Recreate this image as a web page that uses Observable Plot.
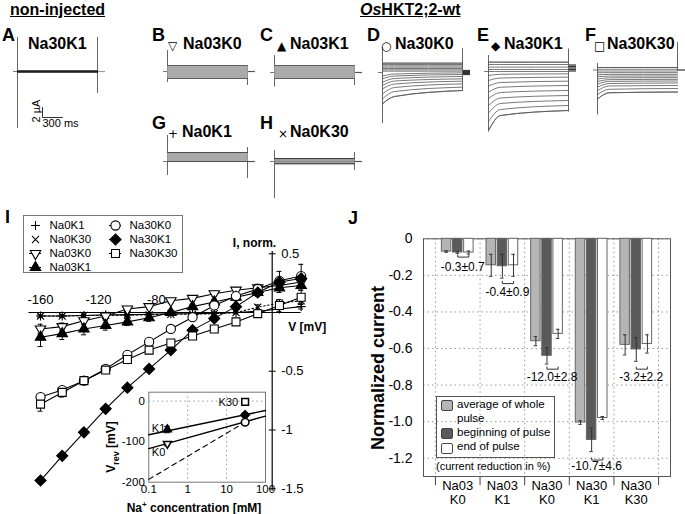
<!DOCTYPE html>
<html><head><meta charset="utf-8">
<script src="https://cdn.jsdelivr.net/npm/d3@7"></script>
<script src="https://cdn.jsdelivr.net/npm/@observablehq/plot@0.6"></script>
<style>
body{margin:0;background:#fff;}
#fig{position:relative;width:685px;height:514px;overflow:hidden;font-family:"Liberation Sans",Arial,sans-serif;color:#000;background:#fff;}
.abs{position:absolute;white-space:nowrap;line-height:1;}
</style></head><body><div id="fig"></div>
<script>
// ================= DATA =================
// Current traces (µA); pulse length
const pulseMs = 1200;
const kneeMs = 180;
const traceA_levels = [0.1, 0.05, 0, -0.05, -0.1];
const traceB_levels = [1.2, 1.0, 0.8, 0.6, 0.4, 0.2, 0.0, -0.2, -0.4, -0.6, -0.8, -1.0, -1.2, -1.4];
const traceC_levels = [1.4, 1.2, 1.0, 0.8, 0.6, 0.4, 0.2, 0.0, -0.2, -0.4, -0.6, -0.8, -1.0, -1.2];
const traceG_levels = [1.8, 1.6, 1.4, 1.2, 1.0, 0.8, 0.6, 0.4, 0.2, 0.0];
const traceH_levels = [0.6, 0.45, 0.3, 0.15, 0.0, -0.15, -0.3, -0.45];
const traceD_start = [1.87, 1.6, 1.33, 1.07, 0.8, 0.53, 0.27, -0.73, -1.27, -1.93, -2.6, -3.27, -4.27, -5.27, -6.27];
const traceD_knee  = [1.87, 1.6, 1.33, 1.07, 0.8, 0.53, 0.27, -0.3, -0.7, -1.2, -1.7, -2.3, -3.0, -3.8, -4.8];
const traceD_end   = [1.87, 1.6, 1.33, 1.07, 0.8, 0.53, 0.27, -0.07, -0.4, -0.8, -1.27, -1.73, -2.27, -2.93, -3.6];
const traceE_start = [1.87, 1.4, 0.87, 0.4, 0, -0.8, -1.8, -2.9, -4.1, -5.4, -6.8, -8.3, -10.0, -11.8];
const traceE_knee  = [1.87, 1.4, 0.87, 0.4, 0, -0.55, -1.3, -2.2, -3.15, -4.2, -5.3, -6.4, -7.6, -8.8];
const traceE_end   = [1.87, 1.4, 0.87, 0.4, 0, -0.47, -1.13, -1.93, -2.8, -3.8, -4.8, -5.8, -6.8, -7.8];
const traceF_start = [0.5, 0.15, -0.2, -0.55, -0.95, -1.35, -1.8, -2.3, -2.8, -3.4, -4.1, -4.9, -5.8];
const traceF_knee  = [0.5, 0.15, -0.2, -0.53, -0.88, -1.22, -1.57, -1.93, -2.28, -2.7, -3.2, -3.85, -4.55];
const traceF_end   = [0.5, 0.15, -0.2, -0.53, -0.87, -1.2, -1.53, -1.87, -2.2, -2.6, -3.1, -3.7, -4.4];
// capacitive spikes [onset hi, onset lo], [offset hi, offset lo]
const spikesA = [[6.8, -11.4], [6.8, -4.4]];
const spikesB = [[4.2, -2.2], [1.2, -2.8]];
const spikesC = [[3.4, -2.9], [1.4, -2.6]];
const spikesD = [[5.0, -10.2], [4.8, -3.6]];
const spikesE = [[3.2, -12.1], [4.5, -8.1]];
const spikesF = [[1.3, -9.0], [5.5, -0.3]];
const spikesG = [[5.2, -2.8], [2.8, -3.4]];
const spikesH = [[2.2, -7.4], [1.8, -1.8]];
const tailsD = [0.4, 0.2, 0, -0.2, -0.4];
const tailsE = [1.3, 1.0, 0.7, 0.4, 0.1];
const tailsFlat = [0];
const scaleBarUA = 2, scaleBarMs = 300;

// Panel I: I–V curves
const ivVoltages = [-160, -145, -130, -115, -100, -85, -70, -55, -40, -25, -10, 5, 20];
const iv_Na0K1   = [-0.03, -0.03, -0.025, -0.02, -0.02, -0.015, -0.01, -0.01, -0.005, 0.0, 0.01, 0.03, 0.05];
const iv_Na0K30  = [-0.03, -0.03, -0.025, -0.025, -0.02, -0.02, -0.015, -0.015, -0.01, 0.0, 0.045, 0.08, 0.1];
const iv_Na03K0  = [-0.14, -0.12, -0.07, -0.03, 0.03, 0.05, 0.10, 0.12, 0.16, 0.19, 0.21, 0.23, 0.26];
const iv_Na03K1  = [-0.21, -0.18, -0.14, -0.11, -0.08, -0.045, 0.0, 0.05, 0.09, 0.13, 0.17, 0.21, 0.23];
const iv_Na30K0  = [-0.72, -0.66, -0.58, -0.48, -0.36, -0.25, -0.14, -0.04, 0.06, 0.14, 0.20, 0.27, 0.31];
const iv_Na30K1  = [-1.43, -1.22, -1.02, -0.82, -0.64, -0.48, -0.32, -0.15, -0.05, 0.05, 0.17, 0.26, 0.29];
const iv_Na30K30 = [-0.78, -0.68, -0.58, -0.49, -0.40, -0.32, -0.26, -0.20, -0.14, -0.08, -0.01, 0.06, 0.13];
const ivErr_Na0K1   = [0.01, 0.01, 0.01, 0.01, 0.01, 0.01, 0.01, 0.01, 0.01, 0.01, 0.01, 0.02, 0.02];
const ivErr_Na0K30  = [0.01, 0.01, 0.01, 0.01, 0.01, 0.01, 0.01, 0.01, 0.01, 0.01, 0.02, 0.03, 0.03];
const ivErr_Na03K0  = [0.04, 0.03, 0.03, 0.03, 0.02, 0.02, 0.02, 0.02, 0.02, 0.02, 0.03, 0.04, 0.05];
const ivErr_Na03K1  = [0.08, 0.05, 0.05, 0.04, 0.03, 0.03, 0.02, 0.02, 0.02, 0.03, 0.03, 0.04, 0.04];
const ivErr_Na30K0  = [0.03, 0.03, 0.02, 0.02, 0.02, 0.02, 0.02, 0.02, 0.02, 0.02, 0.03, 0.08, 0.10];
const ivErr_Na30K1  = [0.02, 0.02, 0.02, 0.02, 0.02, 0.02, 0.02, 0.02, 0.02, 0.02, 0.02, 0.03, 0.03];
const ivErr_Na30K30 = [0.06, 0.04, 0.03, 0.03, 0.03, 0.02, 0.02, 0.02, 0.02, 0.02, 0.02, 0.03, 0.06];
const ivXTicks = [-160, -120, -80];
const ivYTicks = [0.5, -0.5, -1, -1.5];

// Inset: reversal potential vs Na+
const insetConc  = [0.3, 0.3, 30, 30, 30];
const insetVrev  = [-70, -105, -2, -34, -52];
const insetErr   = [8, 5, 8, 5, 3];
const fitK1 = [[0.1, -83], [100, -23]];
const fitK0 = [[0.1, -117], [100, -37]];
const nernstLine = [[0.1, -193], [30, -52]];
const insetXTicks = [0.1, 1, 10, 100];
const insetYTicks = [0, -100, -200];

// Panel J: bars
const jGroups = ["Na03K0", "Na03K1", "Na30K0", "Na30K1", "Na30K30"];
const jLabelTop = ["Na03", "Na03", "Na30", "Na30", "Na30"];
const jLabelBottom = ["K0", "K1", "K0", "K1", "K30"];
const jSeries = ["average", "beginning", "end"];
const jAverage   = [-0.07, -0.145, -0.56, -1.005, -0.58];
const jAverageErr = [0.004, 0.06, 0.025, 0.01, 0.055];
const jBeginning = [-0.075, -0.15, -0.64, -1.10, -0.605];
const jBeginningErr = [0.005, 0.065, 0.045, 0.064, 0.065];
const jEnd       = [-0.075, -0.145, -0.52, -0.98, -0.575];
const jEndErr    = [0.008, 0.06, 0.025, 0.008, 0.05];
const jReduction = ["-0.3±0.7", "-0.4±0.9", "-12.0±2.8", "-10.7±4.6", "-3.2±2.2"];
const jBracketY  = [-0.10, -0.245, -0.713, -1.21, -0.713];
const jReductionY = [-0.155, -0.29, -0.755, -1.245, -0.755];
const jTicks = [0, -0.2, -0.4, -0.6, -0.8, -1.0, -1.2];

// ================= HELPERS =================
const fig = document.getElementById("fig");
const FONT = '"Liberation Sans", Arial, sans-serif';
const baseStyle = {background: "transparent", overflow: "visible", fontFamily: FONT, color: "black"};
function addEl(html, css) {
  const d = document.createElement("div");
  d.className = "abs"; d.style.cssText += css; d.innerHTML = html; fig.appendChild(d); return d;
}
function addText(html, left, cy, size, weight = "normal", extra = "") {
  return addEl(html, `left:${left}px;top:${(cy - 0.5 * size).toFixed(1)}px;font-size:${size}px;font-weight:${weight};${extra}`);
}
function addCentered(html, cx, cy, size, weight = "normal", rot = 0) {
  return addEl(html, `left:${cx}px;top:${cy}px;font-size:${size}px;font-weight:${weight};transform:translate(-50%,-50%) rotate(${rot}deg);`);
}
function addPlot(svg, left, top, w, h) {
  const d = document.createElement("div");
  d.style.cssText = `position:absolute;left:${left}px;top:${top}px;width:${w}px;height:${h}px;`;
  svg.style.maxWidth = "none";
  d.appendChild(svg); fig.appendChild(d);
}
const triDown = {draw(ctx, size) {
  const s = Math.sqrt(size) * 0.6824, t = s / 2, u = s * Math.sqrt(3) / 2;
  ctx.moveTo(0, s); ctx.lineTo(u, -t); ctx.lineTo(-u, -t); ctx.closePath();
}};

// ================= TRACE PANELS =================
const UA_PX = 10 / scaleBarUA;     // 2 µA bar = 10 px
const MS_PX = 20 / scaleBarMs;     // 300 ms bar = 20 px
function flat(levels) { return levels.map(l => ({start: l, end: l})); }
function curved(st, kn, en) { return st.map((s, k) => ({start: s, knee: kn[k], end: en[k]})); }
function tracePanel({left, top, height, zeroY, sweeps, spikes, tails, color, edge, width = 0.9, tailColor = "#555", extra = []}) {
  const W = 100, lead = 8;
  const rows = [];
  sweeps.forEach((s, k) => {
    const isEdge = k === 0 || k === sweeps.length - 1;
    rows.push({k, t: 0, i: s.start, isEdge});
    if (s.knee !== undefined) rows.push({k, t: kneeMs, i: s.knee, isEdge});
    rows.push({k, t: pulseMs, i: s.end, isEdge});
  });
  const spikeRows = [{t: 0, hi: spikes[0][0], lo: spikes[0][1]}, {t: pulseMs, hi: spikes[1][0], lo: spikes[1][1]}];
  const svg = Plot.plot({
    width: W, height, margin: 0, style: baseStyle,
    x: {domain: [-lead / MS_PX, (W - lead) / MS_PX], axis: null},
    y: {domain: [(zeroY - top - height) / UA_PX, (zeroY - top) / UA_PX], axis: null},
    marks: [
      Plot.ruleY([0], {x1: -60, x2: 0, stroke: "#777"}),
      Plot.ruleY(tails, {x1: pulseMs, x2: pulseMs + 120, stroke: tailColor, strokeWidth: 1.2}),
      Plot.ruleX(spikeRows, {x: "t", y1: "lo", y2: "hi", stroke: "#666", strokeWidth: 1}),
      Plot.line(rows, {x: "t", y: "i", z: "k", curve: "monotone-x", stroke: color, strokeWidth: width}),
      Plot.line(rows, {filter: d => d.isEdge, x: "t", y: "i", z: "k", curve: "monotone-x", stroke: edge, strokeWidth: width}),
      ...extra
    ]
  });
  addPlot(svg, left, top, W, height);
}
const scaleBar = [{t: 375, i: -7.2}, {t: 375, i: -7.2 - scaleBarUA}, {t: 375 + scaleBarMs, i: -7.2 - scaleBarUA}];
tracePanel({left: 9, top: 30, height: 105, zeroY: 71, sweeps: flat(traceA_levels), spikes: spikesA, tails: tailsFlat, color: "#222", edge: "#222", width: 1.2, tailColor: "#999",
  extra: [
    Plot.line(scaleBar, {x: "t", y: "i", stroke: "#333", strokeWidth: 1}),
    Plot.text(["2 µA"], {x: 290, y: -7.9, rotate: -90, text: d => d, fontSize: 11}),
    Plot.text(["300 ms"], {x: 375, y: -10.4, textAnchor: "start", text: d => d, fontSize: 11})
  ]});
tracePanel({left: 159, top: 30, height: 105, zeroY: 71, sweeps: flat(traceB_levels), spikes: spikesB, tails: tailsFlat, color: "#a0a0a0", edge: "#555"});
tracePanel({left: 266, top: 30, height: 105, zeroY: 72, sweeps: flat(traceC_levels), spikes: spikesC, tails: tailsFlat, color: "#a0a0a0", edge: "#555"});
tracePanel({left: 374, top: 30, height: 105, zeroY: 72, sweeps: curved(traceD_start, traceD_knee, traceD_end), spikes: spikesD, tails: tailsD, color: "#555", edge: "#555", width: 0.8, tailColor: "#333"});
tracePanel({left: 480, top: 30, height: 105, zeroY: 71, sweeps: curved(traceE_start, traceE_knee, traceE_end), spikes: spikesE, tails: tailsE, color: "#555", edge: "#555", width: 0.8, tailColor: "#333"});
tracePanel({left: 589, top: 30, height: 105, zeroY: 69.5, sweeps: curved(traceF_start, traceF_knee, traceF_end), spikes: spikesF, tails: tailsFlat, color: "#555", edge: "#555", width: 0.8, tailColor: "#333"});
tracePanel({left: 159, top: 125, height: 85, zeroY: 161, sweeps: flat(traceG_levels), spikes: spikesG, tails: tailsFlat, color: "#a0a0a0", edge: "#444"});
tracePanel({left: 266, top: 125, height: 85, zeroY: 161, sweeps: flat(traceH_levels), spikes: spikesH, tails: tailsFlat, color: "#888", edge: "#333"});

// headings and titles
addText("non-injected", 10, 10, 16, "bold", "text-decoration:underline;");
addText("<i>Os</i>HKT2;2-wt", 360, 10, 16, "bold", "text-decoration:underline;");
const panelLetters = [["A", 2, 35], ["B", 152, 35], ["C", 260, 35], ["D", 367, 35], ["E", 477, 35], ["F", 585, 35], ["G", 152, 123], ["H", 260, 123]];
panelLetters.forEach(([l, x, y]) => addText(l, x, y, 18, "bold"));
addText("Na30K1", 28, 44, 16, "bold");
const panelTitles = [
  ["&#9661;", 168, "Na03K0", 183, 44], ["&#9650;", 277, "Na03K1", 290, 44],
  ["&#9675;", 381, "Na30K0", 395, 44], ["&#9670;", 491, "Na30K1", 504, 44],
  ["&#9633;", 594, "Na30K30", 607, 44], ["+", 168, "Na0K1", 182, 132], ["&#215;", 278, "Na0K30", 290, 132]
];
panelTitles.forEach(([sym, sx, txt, tx, cy]) => {
  addText(sym, sx, cy + 2, 12, "normal", 'font-family:"DejaVu Sans",sans-serif;');
  addText(txt, tx, cy, 16, "bold");
});

// ================= PANEL I =================
addText("I", 5, 217, 18, "bold");
const ivSeries = [
  {name: "Na0K1", vals: iv_Na0K1, err: ivErr_Na0K1, symbol: "plus", fill: "none", r: 3, dash: null, col: 0, row: 0, legLine: false},
  {name: "Na0K30", vals: iv_Na0K30, err: ivErr_Na0K30, symbol: "times", fill: "none", r: 3.3, dash: "1.5,2.5", col: 0, row: 1, legLine: false},
  {name: "Na03K0", vals: iv_Na03K0, err: ivErr_Na03K0, symbol: triDown, fill: "white", r: 5, dash: null, col: 0, row: 2, legLine: true},
  {name: "Na03K1", vals: iv_Na03K1, err: ivErr_Na03K1, symbol: "triangle2", fill: "black", r: 5, dash: null, col: 0, row: 3, legLine: true},
  {name: "Na30K0", vals: iv_Na30K0, err: ivErr_Na30K0, symbol: "circle", fill: "white", r: 4.6, dash: null, col: 1, row: 0, legLine: true},
  {name: "Na30K1", vals: iv_Na30K1, err: ivErr_Na30K1, symbol: "diamond2", fill: "black", r: 5, dash: null, col: 1, row: 1, legLine: true},
  {name: "Na30K30", vals: iv_Na30K30, err: ivErr_Na30K30, symbol: "square", fill: "white", r: 4.5, dash: null, col: 1, row: 2, legLine: true}
];
const ivRows = ivSeries.flatMap(s => ivVoltages.map((v, i) => ({name: s.name, v, y: s.vals[i], e: s.err[i]})));
{
  const V0 = 271.7, pxPerMv = 1.448, I0 = 112, pxPerUnit = 117.5, W = 340, H = 314;
  const marks = [
    Plot.ruleY([0], {x1: -168, x2: 20, stroke: "black", strokeWidth: 1.2}),
    Plot.ruleX([0], {y1: -1.52, y2: 0.52, stroke: "black", strokeWidth: 1.2}),
    Plot.ruleY(ivYTicks, {x1: 0, x2: 0, insetLeft: -3, insetRight: -4, stroke: "black"}),
    Plot.text(ivYTicks, {x: 0, y: d => d, dx: 9, textAnchor: "start", text: d => String(d), fontSize: 13}),
    Plot.text(ivXTicks, {x: d => d, y: 0, dy: -13, text: d => String(d), fontSize: 13})
  ];
  ivSeries.forEach(s => marks.push(Plot.line(ivRows, {filter: d => d.name === s.name, x: "v", y: "y", stroke: "black", strokeWidth: 1.1, strokeDasharray: s.dash})));
  marks.push(
    Plot.ruleX(ivRows, {x: "v", y1: d => d.y - d.e, y2: d => d.y + d.e, stroke: "black"}),
    Plot.ruleY(ivRows, {y: d => d.y + d.e, x1: "v", x2: "v", insetLeft: -2.5, insetRight: -2.5, stroke: "black"}),
    Plot.ruleY(ivRows, {y: d => d.y - d.e, x1: "v", x2: "v", insetLeft: -2.5, insetRight: -2.5, stroke: "black"})
  );
  ivSeries.forEach(s => marks.push(Plot.dot(ivRows, {filter: d => d.name === s.name, x: "v", y: "y", symbol: s.symbol, r: s.r, fill: s.fill, stroke: "black", strokeWidth: 1.1})));
  marks.push(
    Plot.text(["I, norm."], {x: 0, y: 0.5, dx: 4, dy: -11, textAnchor: "end", text: d => d, fontWeight: "bold", fontSize: 12}),
    Plot.text(["V [mV]"], {x: 0, y: 0, dx: 54, dy: 15, textAnchor: "end", text: d => d, fontWeight: "bold", fontSize: 12})
  );
  const svg = Plot.plot({
    width: W, height: H, margin: 0, style: baseStyle,
    x: {domain: [-V0 / pxPerMv, (W - V0) / pxPerMv], axis: null},
    y: {domain: [(I0 - H) / pxPerUnit, I0 / pxPerUnit], axis: null},
    marks
  });
  addPlot(svg, 0, 200, W, H);
}
// legend for I
{
  const legRows = ivSeries.map(s => ({name: s.name, col: s.col, row: s.row, legLine: s.legLine}));
  const marks = [Plot.frame({stroke: "#777", fill: "white"})];
  marks.push(Plot.ruleY(legRows, {filter: d => d.legLine, y: "row", x1: "col", x2: "col", insetLeft: -6, insetRight: -6, stroke: "black"}));
  ivSeries.forEach(s => marks.push(Plot.dot(legRows, {filter: d => d.name === s.name, x: "col", y: "row", symbol: s.symbol, r: s.r, fill: s.fill, stroke: "black", strokeWidth: 1.1})));
  marks.push(Plot.text(legRows, {x: "col", y: "row", dx: 14, textAnchor: "start", text: "name", fontSize: 11.5}));
  const svg = Plot.plot({
    width: 159, height: 57, margin: 0, style: baseStyle,
    x: {domain: [0, 1], range: [12, 92], axis: null},
    y: {domain: [0, 3], range: [10, 52], axis: null},
    marks
  });
  addPlot(svg, 23, 215, 159, 57);
}
// inset
{
  const insetSymbols = ["triangle2", triDown, "square", "diamond2", "circle"];
  const insetFills = ["black", "white", "white", "black", "white"];
  const pts = insetConc.map((c, i) => ({c, v: insetVrev[i], e: insetErr[i], k: i}));
  const toRows = arr => arr.map(([c, v]) => ({c, v}));
  const marks = [
    Plot.frame({fill: "white", stroke: "#777"}),
    Plot.ruleY([0], {stroke: "#999", strokeDasharray: "1.5,3"}),
    Plot.ruleX([1, 10], {stroke: "#999", strokeDasharray: "1.5,3"}),
    Plot.line(toRows(nernstLine), {x: "c", y: "v", stroke: "black", strokeDasharray: "5,4", strokeWidth: 1.1}),
    Plot.line(toRows(fitK1), {x: "c", y: "v", stroke: "black", strokeWidth: 1.4}),
    Plot.line(toRows(fitK0), {x: "c", y: "v", stroke: "black", strokeWidth: 1.4}),
    Plot.ruleX(pts, {x: "c", y1: d => d.v - d.e, y2: d => d.v + d.e, stroke: "black"}),
    Plot.ruleY(pts, {y: d => d.v + d.e, x1: "c", x2: "c", insetLeft: -3, insetRight: -3, stroke: "black"}),
    Plot.ruleY(pts, {y: d => d.v - d.e, x1: "c", x2: "c", insetLeft: -3, insetRight: -3, stroke: "black"})
  ];
  pts.forEach((p, i) => marks.push(Plot.dot([p], {x: "c", y: "v", symbol: insetSymbols[i], r: 3.8, fill: insetFills[i], stroke: "black"})));
  marks.push(
    Plot.text(insetYTicks, {y: d => d, frameAnchor: "left", dx: -4, textAnchor: "end", text: d => String(d), fontSize: 11.5}),
    Plot.text(insetXTicks, {x: d => d, frameAnchor: "bottom", dy: 11, text: d => String(d), fontSize: 11.5}),
    Plot.text(["K1"], {x: 0.1, y: -67, dx: 3, textAnchor: "start", text: d => d, fontSize: 11}),
    Plot.text(["K0"], {x: 0.1, y: -127, dx: 3, textAnchor: "start", text: d => d, fontSize: 11}),
    Plot.text(["K30"], {x: 30, y: -3, dx: -7, textAnchor: "end", text: d => d, fontSize: 11})
  );
  const svg = Plot.plot({
    width: 175, height: 127, marginLeft: 48.3, marginRight: 10, marginTop: 6.7, marginBottom: 30.3, style: baseStyle,
    x: {type: "log", domain: [0.1, 100], axis: null},
    y: {domain: [-200, 22], axis: null},
    marks
  });
  addPlot(svg, 100, 385, 175, 127);
}
addCentered("V<sub style='font-size:9px'>rev</sub> [mV]", 113, 447, 12, "bold", -90);
addCentered("Na<sup style='font-size:8px'>+</sup> concentration [mM]", 194, 507, 12, "bold");

// ================= PANEL J =================
addText("J", 348, 218, 18, "bold");
addCentered("Normalized current", 378, 368, 18, "bold", -90);
const jRows = jGroups.flatMap((g, i) => [
  {group: g, series: "average", value: jAverage[i], err: jAverageErr[i]},
  {group: g, series: "beginning", value: jBeginning[i], err: jBeginningErr[i]},
  {group: g, series: "end", value: jEnd[i], err: jEndErr[i]}
]);
const jBrackets = jGroups.flatMap((g, i) => [
  {group: g, series: "beginning", y: jBracketY[i] + 0.012},
  {group: g, series: "beginning", y: jBracketY[i]},
  {group: g, series: "end", y: jBracketY[i]},
  {group: g, series: "end", y: jBracketY[i] + 0.012}
]);
const jAnnot = jGroups.map((g, i) => ({group: g, y: jReductionY[i], label: jReduction[i]}));
const jCat = jGroups.map((g, i) => ({group: g, top: jLabelTop[i], bottom: jLabelBottom[i]}));
const J = {W: 345, H: 314, mL: 83, mR: 15, mT: 38.3, mB: 38, outer: 0.267};
{
  const svg = Plot.plot({
    width: J.W, height: J.H, marginLeft: J.mL, marginRight: J.mR, marginTop: J.mT, marginBottom: J.mB, style: baseStyle,
    x: {domain: [-J.outer, jGroups.length + J.outer], axis: null},
    y: {domain: [-1.3, 0], axis: null},
    marks: [
      Plot.ruleY(jTicks, {stroke: "#999", strokeDasharray: "1.5,3"}),
      Plot.ruleX(d3.range(jGroups.length + 1), {stroke: "#999", strokeDasharray: "1.5,3"}),
      Plot.ruleX(d3.range(jGroups.length + 1), {y1: -1.3, y2: -1.35, stroke: "#444"}),
      Plot.frame({stroke: "#555"}),
      Plot.text(jTicks, {y: d => d, frameAnchor: "left", dx: -11, textAnchor: "end", text: d => d === 0 ? "0" : d.toFixed(1), fontSize: 14})
    ]
  });
  addPlot(svg, 340, 200, J.W, J.H);
}
{
  const svg = Plot.plot({
    width: J.W, height: J.H, marginLeft: J.mL, marginRight: J.mR, marginTop: J.mT, marginBottom: J.mB,
    style: {...baseStyle, fontSize: "14px"},
    fx: {domain: jGroups, paddingInner: 0, paddingOuter: J.outer, round: false, axis: null},
    x: {domain: jSeries, paddingInner: 0.15, paddingOuter: 0.58, round: false, axis: null},
    y: {domain: [-1.3, 0], axis: null},
    color: {domain: jSeries, range: ["#b5b5b5", "#5a5a5a", "#ffffff"]},
    marks: [
      Plot.barY(jRows, {fx: "group", x: "series", y: "value", fill: "series", stroke: "#666", strokeWidth: 1}),
      Plot.ruleX(jRows, {fx: "group", x: "series", y1: d => d.value - d.err, y2: d => d.value + d.err, stroke: "#333"}),
      Plot.tickY(jRows, {fx: "group", x: "series", y: d => d.value - d.err, insetLeft: 3, insetRight: 3, stroke: "#333"}),
      Plot.tickY(jRows, {fx: "group", x: "series", y: d => d.value + d.err, insetLeft: 3, insetRight: 3, stroke: "#333"}),
      Plot.line(jBrackets, {fx: "group", x: "series", y: "y", z: "group", stroke: "#333", strokeWidth: 1}),
      Plot.text(jAnnot, {fx: "group", y: "y", text: "label", frameAnchor: "middle", dx: 5, fontSize: 12}),
      Plot.text(jCat, {fx: "group", frameAnchor: "bottom", dy: 13.5, text: "top", fontSize: 13}),
      Plot.text(jCat, {fx: "group", frameAnchor: "bottom", dy: 27, text: "bottom", fontSize: 13})
    ]
  });
  addPlot(svg, 340, 200, J.W, J.H);
}
// legend J
addEl("", "left:436px;top:396px;width:117px;height:60px;border:1px solid #555;");
[["#b5b5b5", 400], ["#5a5a5a", 428], ["#ffffff", 443]].forEach(([c, y]) =>
  addEl("", `left:441px;top:${y}px;width:10px;height:9px;background:${c};border:1px solid #444;border-radius:2px;`));
addText("average of whole", 457, 405, 11.5);
addText("pulse", 457, 419, 11.5);
addText("beginning of pulse", 457, 433, 11.5);
addText("end of pulse", 457, 447, 11.5);
addText("(current reduction in %)", 436, 466, 11);
</script></body></html>
